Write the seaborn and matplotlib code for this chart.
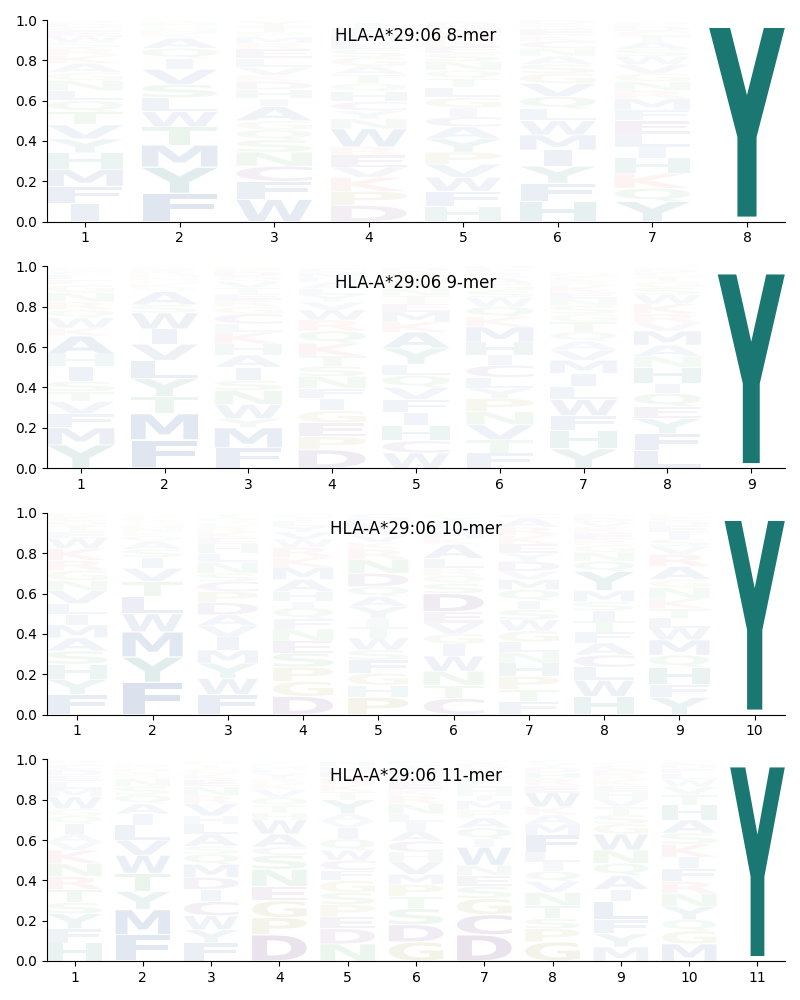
import matplotlib
matplotlib.use("Agg")
import matplotlib.pyplot as plt
import seaborn as sns
from matplotlib.textpath import TextPath
from matplotlib.patches import PathPatch
from matplotlib.font_manager import FontProperties
from matplotlib.transforms import Affine2D

allele = "HLA-A*29:06"
y_ticks = [0.0, 0.2, 0.4, 0.6, 0.8, 1.0]

# ---- 8-mer: letters bottom->top per position, with frequencies ----
letters_8 = ["IFMHYVTQLNGAKRSWECDP", "FYMTWLSVIQAKNGHR", "WFCNSQGAIHDKVLERMPTY",
             "DPKVERWNYCHQTAGSLMFI", "HFWVPYACIGLTQNSEKRMD", "HFYIMWLQVGSANCKERD",
             "YQKHILEFMRNGVWSATCDP", "YFHWMLIV"]
probs_8 = [[.09, .085, .085, .08, .07, .07, .065, .055, .05, .05, .04, .045, .04, .035, .03, .03, .025, .02, .015, .015],
           [.14, .13, .11, .09, .075, .07, .065, .075, .055, .05, .05, .025, .02, .015, .015, .01],
           [.11, .09, .075, .07, .06, .05, .045, .07, .04, .045, .04, .03, .04, .045, .045, .03, .03, .025, .03, .025],
           [.08, .07, .07, .05, .06, .04, .09, .05, .04, .045, .05, .04, .045, .04, .045, .04, .035, .04, .03, .025],
           [.075, .075, .07, .065, .06, .065, .06, .05, .045, .05, .05, .045, .04, .045, .04, .035, .035, .03, .03, .025],
           [.1, .09, .085, .08, .075, .07, .06, .06, .065, .05, .045, .04, .04, .035, .03, .03, .025, .02],
           [.1, .065, .075, .075, .055, .065, .065, .055, .055, .04, .045, .04, .045, .04, .035, .035, .03, .025, .025, .02],
           [.985, .004, .003, .002, .002, .002, .001, .001]]

# ---- 9-mer ----
letters_9 = ["YMFVTSIHAKWQRNGELCDP", "FMTYLVIWSAQKGNHREC", "FMYWNSIAHKLCGRETVQDP",
             "DPEGIFNSTKQRWVYLAHMC", "WCHIFVQLYAKMETNRGSD", "FTVNPYLCIHMKQWSGARED",
             "YHFWLIMVAQTGSNEKRCDP", "LFYEQIHNAMVRKWSGTCDP", "YFHWMLIV"]
probs_9 = [[.115, .085, .07, .06, .05, .05, .075, .06, .09, .04, .05, .04, .04, .045, .04, .025, .025, .015, .01, .01],
           [.14, .13, .085, .09, .09, .08, .075, .08, .04, .065, .02, .02, .015, .015, .015, .02, .01, .01],
           [.1, .1, .045, .07, .07, .05, .065, .06, .055, .06, .04, .05, .035, .035, .03, .03, .03, .025, .025, .02],
           [.09, .065, .07, .06, .06, .05, .06, .05, .05, .065, .06, .055, .05, .04, .035, .03, .03, .025, .025, .02],
           [.075, .06, .075, .065, .065, .06, .06, .055, .08, .08, .05, .05, .04, .04, .035, .03, .03, .025, .02],
           [.075, .065, .075, .065, .065, .05, .055, .06, .05, .065, .075, .05, .05, .045, .035, .035, .03, .025, .02, .015],
           [.095, .09, .075, .08, .065, .065, .065, .05, .045, .045, .05, .04, .04, .035, .03, .035, .025, .02, .015, .01],
           [.085, .085, .075, .06, .065, .05, .08, .055, .055, .07, .04, .045, .05, .045, .035, .03, .025, .02, .015, .01],
           [.985, .004, .003, .002, .002, .002, .001, .001]]

# ---- 10-mer ----
letters_10 = ["FYHSAMILVNGRKWETQCDP", "FYMWLTVISAQKNHGRECDP", "FWYMIVADPCSNLHEKRGQT",
              "DGPSENFQIHAMKRWVYLTC", "PHGFSWTIYAQDNRKVELMC", "CTNWIGVEDSQRLAKHMFYP",
              "FTPHNLGWSIQMVDYEKRAC", "HWLCAFTISMYQNGREKVDP", "YFHQMWLTKNGARVSIEDCP", "YFHWMLIV"]
probs_10 = [[.1, .075, .075, .065, .065, .065, .05, .055, .065, .05, .05, .05, .06, .05, .03, .03, .025, .02, .015, .005],
            [.16, .125, .125, .09, .085, .075, .065, .055, .04, .04, .025, .02, .02, .015, .015, .01, .01, .01, .005, .005],
            [.1, .08, .075, .065, .065, .055, .055, .06, .055, .05, .04, .055, .045, .045, .03, .03, .025, .025, .02, .02],
            [.09, .075, .07, .07, .06, .06, .05, .055, .03, .05, .06, .06, .05, .05, .04, .035, .03, .025, .02, .015],
            [.085, .06, .06, .065, .05, .06, .055, .04, .06, .05, .05, .065, .07, .05, .035, .035, .03, .03, .025, .02],
            [.08, .065, .07, .075, .06, .05, .055, .055, .09, .05, .04, .035, .05, .07, .03, .03, .03, .025, .02, .015],
            [.065, .06, .065, .065, .055, .05, .055, .055, .05, .045, .055, .05, .04, .05, .04, .045, .045, .04, .045, .02],
            [.09, .08, .065, .06, .06, .055, .055, .05, .045, .055, .095, .05, .045, .035, .03, .03, .03, .025, .02, .02],
            [.085, .065, .085, .06, .075, .06, .05, .045, .05, .055, .04, .065, .06, .04, .035, .035, .03, .025, .02, .015],
            [.985, .004, .003, .002, .002, .002, .001, .001]]

# ---- 11-mer ----
letters_11 = ["HFYSTRNKVAIQGWMLEDCP", "FMYTWVLIAQSNGKHRECDP", "FYWCIDMQSALHVRNEKGTP",
              "DPGENSCAWHTQVKRYLMFI", "NDEPSGFCWQIVAYTKRLMH", "GDSTPMVHCAILNRKEQWYF",
              "DCGSENWIQAPMTHLFYKRV", "GPSTNVQILFMAKWERHDYC", "MYFLIAQNWGSTVHEKRDCP",
              "MGQYNRFIKSAHTVWLEDCP", "YFHWMLIV"]
probs_11 = [[.09, .07, .075, .055, .065, .065, .065, .065, .04, .04, .05, .04, .035, .06, .04, .035, .03, .03, .025, .02],
            [.13, .125, .09, .09, .09, .075, .075, .055, .05, .045, .04, .04, .02, .015, .015, .01, .01, .01, .005, .005],
            [.09, .065, .07, .07, .06, .06, .065, .05, .04, .06, .05, .04, .06, .04, .045, .035, .03, .025, .02, .015],
            [.13, .085, .085, .07, .085, .07, .04, .065, .07, .035, .035, .04, .04, .03, .025, .025, .02, .015, .015, .01],
            [.085, .075, .06, .06, .06, .06, .05, .05, .05, .055, .055, .035, .035, .07, .04, .035, .035, .03, .025, .025],
            [.095, .085, .08, .06, .06, .05, .065, .045, .055, .05, .045, .04, .05, .04, .035, .035, .03, .03, .025, .02],
            [.13, .1, .08, .06, .055, .05, .09, .04, .055, .05, .04, .045, .03, .035, .03, .025, .025, .02, .02, .015],
            [.095, .065, .05, .065, .065, .055, .05, .045, .05, .085, .055, .045, .04, .07, .035, .035, .03, .025, .02, .015],
            [.07, .065, .07, .09, .06, .07, .06, .065, .08, .05, .045, .04, .04, .035, .03, .03, .025, .025, .02, .015],
            [.085, .065, .055, .065, .065, .06, .065, .055, .065, .055, .065, .075, .05, .04, .035, .03, .025, .02, .015, .01],
            [.985, .004, .003, .002, .002, .002, .001, .001]]

# residue colour groups
group_colors = {"hydrophobic": "#1f4e96", "aromatic": "#17756f", "acidic": "#5e2a78",
                "basic": "#e0605a", "special": "#8c8a1a", "polar": "#2e9a3e"}
group_members = {"hydrophobic": "AVLIMFW", "aromatic": "YH", "acidic": "DEC",
                 "basic": "KR", "special": "GP", "polar": "STNQ"}
aa_color = {aa: group_colors[g] for g, members in group_members.items() for aa in members}

panels = [(8, letters_8, probs_8), (9, letters_9, probs_9),
          (10, letters_10, probs_10), (11, letters_11, probs_11)]

fp = FontProperties(family="DejaVu Sans", weight="bold")
_cache = {}


def base_path(c):
    if c not in _cache:
        _cache[c] = TextPath((0, 0), c, size=1, prop=fp)
    return _cache[c]


E_WIDTH = base_path("E").get_extents().width


def draw_glyph(ax, c, x, y0, h, color, alpha, width=0.8, vpad=0.05):
    p = base_path(c)
    bb = p.get_extents()
    hs = width / max(bb.width, E_WIDTH)
    cw = bb.width * hs
    vs = h * (1 - vpad) / bb.height
    tr = (Affine2D().translate(-bb.x0, -bb.y0).scale(hs, vs)
          .translate(x - cw / 2, y0 + h * vpad / 2))
    ax.add_patch(PathPatch(tr.transform_path(p), facecolor=color,
                           edgecolor="none", alpha=min(1.0, alpha), lw=0))


fig, axes = plt.subplots(4, 1, figsize=(8, 10), dpi=100)
fig.subplots_adjust(left=0.059, right=0.981, top=0.98, bottom=0.039, hspace=0.223)

for ax, (L, letters, probs) in zip(axes, panels):
    for i, (lets, ps) in enumerate(zip(letters, probs)):
        x = i + 1
        y0 = 0.0
        for c, p in zip(lets, ps):
            draw_glyph(ax, c, x, y0, p, aa_color[c], p)
            y0 += p
    ax.set_xlim(0.6, L + 0.4)
    ax.set_ylim(0, 1)
    ax.set_xticks(range(1, L + 1))
    ax.set_yticks(y_ticks)
    ax.set_yticklabels([f"{t:.1f}" for t in y_ticks])
    ax.text(0.5, 0.92, f"{allele} {L}-mer", transform=ax.transAxes,
            ha="center", va="center", fontsize=12)
    sns.despine(ax=ax)

fig.savefig("out.png", dpi=100)
